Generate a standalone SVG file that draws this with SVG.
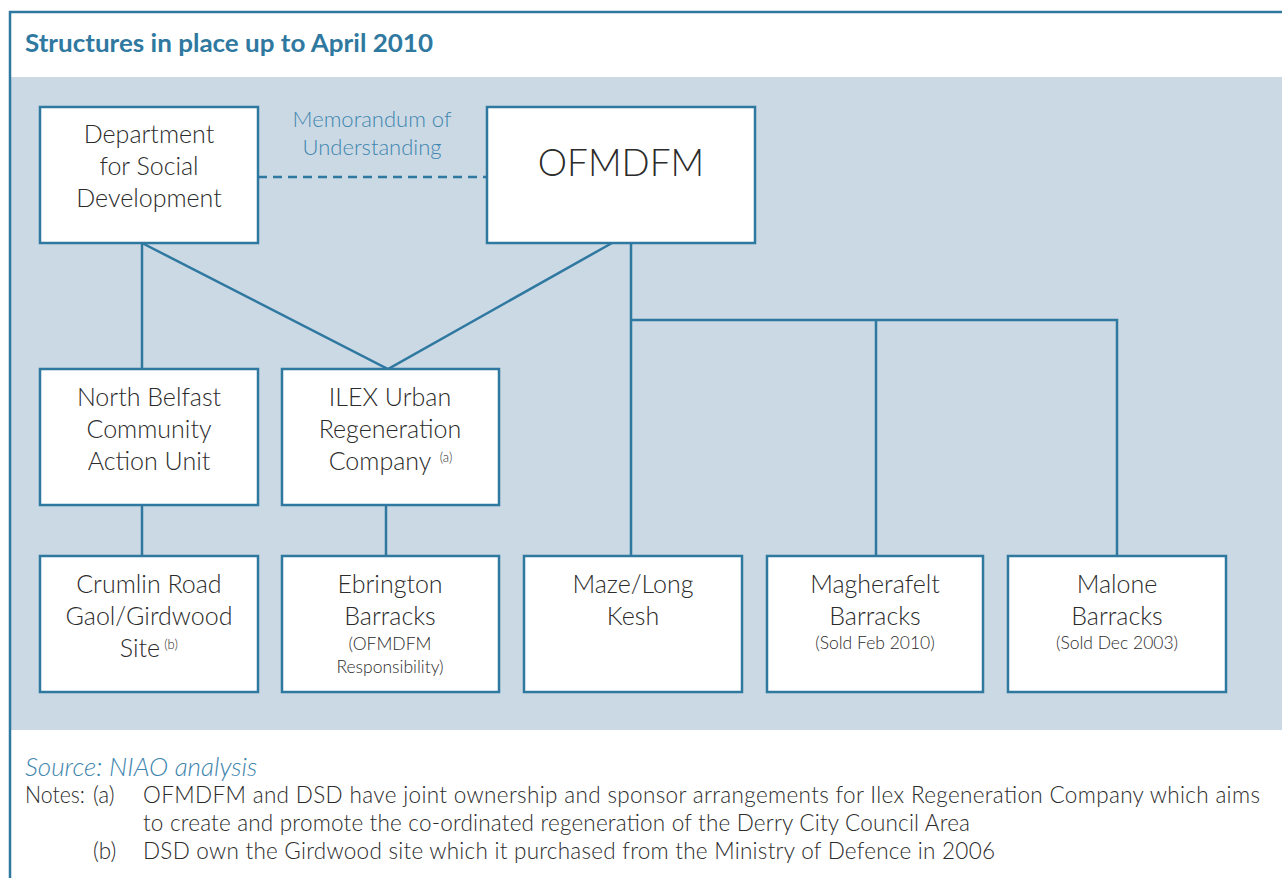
<svg xmlns="http://www.w3.org/2000/svg" width="1282" height="878" viewBox="0 0 1282 878">
<style>
.box{fill:#ffffff;stroke:#2f78a0;stroke-width:2.5}
.ln{stroke:#2f78a0;stroke-width:2.5;fill:none}
.t{font-family:Lato,"Liberation Sans",sans-serif;font-weight:300;fill:#2b2b2b;text-anchor:middle}
.big{font-size:25px}
.sm{font-size:17.5px}
.sup{font-size:13px}
.blue{font-family:Lato,"Liberation Sans",sans-serif;font-weight:300;fill:#3f86ae}
.note{font-family:Lato,"Liberation Sans",sans-serif;font-weight:300;fill:#2b2b2b;font-size:22.5px}
</style>
<rect x="0" y="0" width="1282" height="878" fill="#ffffff"/>
<rect x="11" y="77" width="1271" height="653" fill="#cbd9e5"/>
<path d="M10,878 V12 H1282" fill="none" stroke="#2f78a0" stroke-width="2.5"/>
<text x="25" y="52" font-family="Lato,'Liberation Sans',sans-serif" font-weight="700" font-size="25" fill="#2f78a0" textLength="408" lengthAdjust="spacingAndGlyphs">Structures in place up to April 2010</text>

<g id="connectors">
<line class="ln" x1="258" y1="177" x2="487" y2="177" stroke-dasharray="9,6"/>
<text class="blue" x="372" y="127" font-size="22" text-anchor="middle">Memorandum of</text>
<text class="blue" x="372" y="155" font-size="22" text-anchor="middle">Understanding</text>
<line class="ln" x1="142" y1="243" x2="142" y2="369"/>
<polyline class="ln" points="142,243 388,369 612,243"/>
<line class="ln" x1="631" y1="243" x2="631" y2="556"/>
<polyline class="ln" points="631,320 1117,320 1117,556"/>
<line class="ln" x1="876" y1="320" x2="876" y2="556"/>
<line class="ln" x1="142" y1="505" x2="142" y2="556"/>
<line class="ln" x1="386" y1="505" x2="386" y2="556"/>
</g>

<g id="dsd">
<rect class="box" x="40" y="107" width="218" height="136"/>
<text class="t big" x="149" y="143">Department</text>
<text class="t big" x="149" y="175">for Social</text>
<text class="t big" x="149" y="207">Development</text>
</g>
<g id="ofmdfm">
<rect class="box" x="487" y="107" width="268" height="136"/>
<text class="t" x="621" y="176" font-size="37">OFMDFM</text>
</g>
<g id="nbcau">
<rect class="box" x="40" y="369" width="218" height="136"/>
<text class="t big" x="149" y="406">North Belfast</text>
<text class="t big" x="149" y="438">Community</text>
<text class="t big" x="149" y="470">Action Unit</text>
</g>
<g id="ilex">
<rect class="box" x="282" y="369" width="217" height="136"/>
<text class="t big" x="390" y="406">ILEX Urban</text>
<text class="t big" x="390" y="438">Regeneration</text>
<text class="t big" x="380" y="470">Company</text>
<text class="t sup" x="446" y="462">(a)</text>
</g>
<g id="crumlin">
<rect class="box" x="40" y="556" width="218" height="136"/>
<text class="t big" x="149" y="593">Crumlin Road</text>
<text class="t big" x="149" y="625">Gaol/Girdwood</text>
<text class="t big" x="140" y="657">Site</text>
<text class="t sup" x="171" y="649">(b)</text>
</g>
<g id="ebrington">
<rect class="box" x="282" y="556" width="217" height="136"/>
<text class="t big" x="390" y="593">Ebrington</text>
<text class="t big" x="390" y="625">Barracks</text>
<text class="t sm" x="390" y="650">(OFMDFM</text>
<text class="t sm" x="390" y="673">Responsibility)</text>
</g>
<g id="maze">
<rect class="box" x="524" y="556" width="218" height="136"/>
<text class="t big" x="633" y="593">Maze/Long</text>
<text class="t big" x="633" y="625">Kesh</text>
</g>
<g id="magherafelt">
<rect class="box" x="767" y="556" width="216" height="136"/>
<text class="t big" x="875" y="593">Magherafelt</text>
<text class="t big" x="875" y="625">Barracks</text>
<text class="t sm" x="875" y="649">(Sold Feb 2010)</text>
</g>
<g id="malone">
<rect class="box" x="1008" y="556" width="218" height="136"/>
<text class="t big" x="1117" y="593">Malone</text>
<text class="t big" x="1117" y="625">Barracks</text>
<text class="t sm" x="1117" y="649">(Sold Dec 2003)</text>
</g>

<text class="blue" x="25" y="776" font-size="26" font-style="italic">Source: NIAO analysis</text>
<text class="note" x="25" y="803" textLength="60" lengthAdjust="spacingAndGlyphs">Notes:</text>
<text class="note" x="93" y="803">(a)</text>
<text class="note" x="143" y="803" textLength="1117">OFMDFM and DSD have joint ownership and sponsor arrangements for Ilex Regeneration Company which aims</text>
<text class="note" x="143" y="831" textLength="827">to create and promote the co-ordinated regeneration of the Derry City Council Area</text>
<text class="note" x="93" y="859">(b)</text>
<text class="note" x="143" y="859" textLength="852">DSD own the Girdwood site which it purchased from the Ministry of Defence in 2006</text>
</svg>
